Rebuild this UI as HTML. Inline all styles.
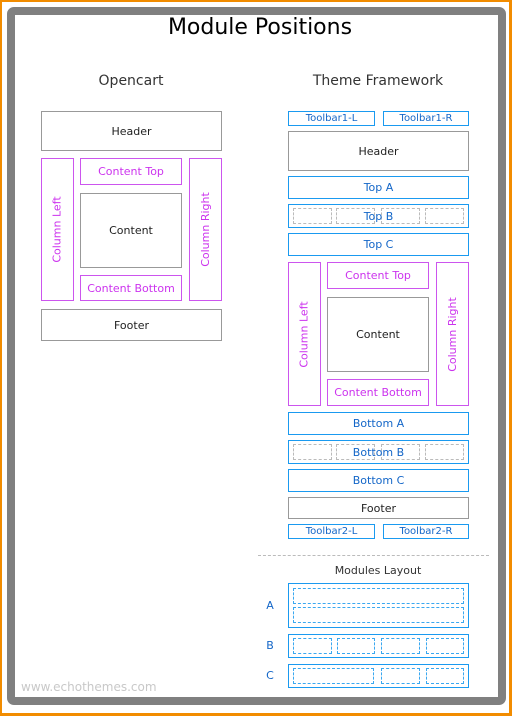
<!DOCTYPE html>
<html><head><meta charset="utf-8"><style>
*{margin:0;padding:0;box-sizing:border-box}
body{width:512px;height:716px;position:relative;background:#fff;font-family:"DejaVu Sans","Liberation Sans",sans-serif;overflow:hidden}
.a{position:absolute}
.b{position:absolute;display:flex;align-items:center;justify-content:center;font-size:11px;white-space:nowrap}
.g{border:1px solid #999;color:#222}
.p{border:1px solid #cc55ee;color:#cc33ee}
.u{border:1px solid #1a9af0;color:#1366c8}
.d{position:absolute;border:1px dashed #bbb}
.db{position:absolute;border:1px dashed #3aa8f0}
.v{transform:rotate(-90deg)}
.t{position:absolute;white-space:nowrap;transform:translateX(-50%);color:#333}
</style></head><body>
<div class="a" style="left:0;top:0;width:512px;height:716px;border:2px solid #f28c00;border-right-width:3px;border-bottom-width:3px"></div>
<div class="a" style="left:7px;top:7px;width:499px;height:698px;border:8px solid #808080;border-radius:7px"></div>
<div class="t" style="left:260px;top:15px;font-size:22px;color:#000">Module Positions</div>
<div class="t" style="left:131px;top:73px;font-size:14px">Opencart</div>
<div class="t" style="left:378px;top:73px;font-size:14px">Theme Framework</div>

<div class="b g" style="left:41px;top:111px;width:181px;height:40px">Header</div>
<div class="b p" style="left:41px;top:158px;width:33px;height:143px"><span class="v">Column Left</span></div>
<div class="b p" style="left:80px;top:158px;width:102px;height:27px">Content Top</div>
<div class="b g" style="left:80px;top:193px;width:102px;height:75px">Content</div>
<div class="b p" style="left:80px;top:275px;width:102px;height:26px">Content Bottom</div>
<div class="b p" style="left:189px;top:158px;width:33px;height:143px"><span class="v">Column Right</span></div>
<div class="b g" style="left:41px;top:309px;width:181px;height:32px">Footer</div>

<div class="b u" style="left:288px;top:111px;width:87px;height:15px;font-size:10px">Toolbar1-L</div>
<div class="b u" style="left:383px;top:111px;width:86px;height:15px;font-size:10px">Toolbar1-R</div>
<div class="b g" style="left:288px;top:131px;width:181px;height:40px">Header</div>
<div class="b u" style="left:288px;top:176px;width:181px;height:23px">Top A</div>
<div class="b u" style="left:288px;top:204px;width:181px;height:24px">
<div class="d" style="left:4px;top:3px;width:39px;height:16px"></div><div class="d" style="left:47px;top:3px;width:39px;height:16px"></div><div class="d" style="left:92px;top:3px;width:39px;height:16px"></div><div class="d" style="left:136px;top:3px;width:39px;height:16px"></div><span style="position:relative">Top B</span></div>
<div class="b u" style="left:288px;top:233px;width:181px;height:23px">Top C</div>
<div class="b p" style="left:288px;top:262px;width:33px;height:144px"><span class="v">Column Left</span></div>
<div class="b p" style="left:327px;top:262px;width:102px;height:27px">Content Top</div>
<div class="b g" style="left:327px;top:297px;width:102px;height:75px">Content</div>
<div class="b p" style="left:327px;top:379px;width:102px;height:27px">Content Bottom</div>
<div class="b p" style="left:436px;top:262px;width:33px;height:144px"><span class="v">Column Right</span></div>
<div class="b u" style="left:288px;top:412px;width:181px;height:23px">Bottom A</div>
<div class="b u" style="left:288px;top:440px;width:181px;height:24px">
<div class="d" style="left:4px;top:3px;width:39px;height:16px"></div><div class="d" style="left:47px;top:3px;width:39px;height:16px"></div><div class="d" style="left:92px;top:3px;width:39px;height:16px"></div><div class="d" style="left:136px;top:3px;width:39px;height:16px"></div><span style="position:relative">Bottom B</span></div>
<div class="b u" style="left:288px;top:469px;width:181px;height:23px">Bottom C</div>
<div class="b g" style="left:288px;top:497px;width:181px;height:22px">Footer</div>
<div class="b u" style="left:288px;top:524px;width:87px;height:15px;font-size:10px">Toolbar2-L</div>
<div class="b u" style="left:383px;top:524px;width:86px;height:15px;font-size:10px">Toolbar2-R</div>

<div class="a" style="left:258px;top:555px;width:231px;border-top:1px dashed #bbb"></div>
<div class="t" style="left:378px;top:564px;font-size:11px">Modules Layout</div>
<div class="t" style="left:270px;top:599px;font-size:11px;color:#1366c8">A</div>
<div class="t" style="left:270px;top:639px;font-size:11px;color:#1366c8">B</div>
<div class="t" style="left:270px;top:669px;font-size:11px;color:#1366c8">C</div>
<div class="a u" style="left:288px;top:583px;width:181px;height:45px">
<div class="db" style="left:4px;top:4px;width:171px;height:16px"></div><div class="db" style="left:4px;top:23px;width:171px;height:16px"></div></div>
<div class="a u" style="left:288px;top:634px;width:181px;height:24px">
<div class="db" style="left:4px;top:3px;width:39px;height:16px"></div><div class="db" style="left:48px;top:3px;width:38px;height:16px"></div><div class="db" style="left:92px;top:3px;width:39px;height:16px"></div><div class="db" style="left:137px;top:3px;width:38px;height:16px"></div></div>
<div class="a u" style="left:288px;top:664px;width:181px;height:24px">
<div class="db" style="left:4px;top:3px;width:81px;height:16px"></div><div class="db" style="left:92px;top:3px;width:39px;height:16px"></div><div class="db" style="left:137px;top:3px;width:38px;height:16px"></div></div>

<div class="a" style="left:21px;top:680px;font-size:12px;color:#c8c8c8;white-space:nowrap">www.echothemes.com</div>
</body></html>
